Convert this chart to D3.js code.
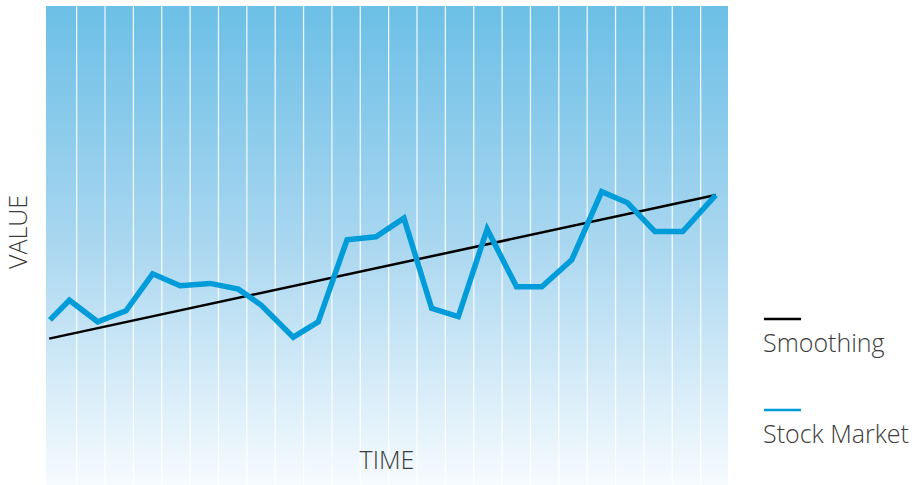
<!DOCTYPE html>
<html>
<head>
<meta charset="utf-8">
<script src="https://cdn.jsdelivr.net/npm/d3@7"></script>
<style>
  body { margin: 0; background: #fff; }
  text { font-family: "Open Sans", sans-serif; font-weight: 300; fill: #3c3c3c; }
</style>
</head>
<body>
<div id="container"></div>
<script>
// stock market series (time in grid units, value in %)
const times = [0, 0.7, 1.72, 2.74, 3.7, 4.69, 5.77, 6.79, 7.61, 8.77, 9.67, 10.71,
  11.75, 12.76, 13.76, 14.72, 15.76, 16.82, 17.73, 18.81, 19.89, 20.82, 21.81, 22.81, 24];
const values = [34.4, 38.5, 34.0, 36.3, 44.0, 41.5, 42.0, 40.8, 37.5, 30.8, 34.0, 51.1,
  51.7, 55.6, 36.8, 35.1, 53.3, 41.3, 41.3, 46.9, 61.1, 58.8, 52.8, 52.8, 60.4];
// smoothing (linear trend)
const smoothTimes = [-0.03, 24];
const smoothValues = [30.5, 60.4];
// vertical grid positions
const gridTicks = d3.range(1, 24);
const legendItems = ["Smoothing", "Stock Market"];
const legendColors = ["#000000", "#009cda"];

const width = 918;
const height = 485;
const plotLeft = 46, plotRight = 728, plotTop = 6, plotBottom = 485;

const x = d3.scaleLinear().domain([0, 24]).range([50, 715.7]);
const gx = d3.scaleLinear().domain([0, 24]).range([48.3, 729]);
const y = d3.scaleLinear().domain([0, 100]).range([485, 5]);

const svg = d3.create("svg")
  .attr("width", width)
  .attr("height", height)
  .attr("viewBox", [0, 0, width, height]);

const grad = svg.append("defs").append("linearGradient")
  .attr("id", "bg").attr("x1", 0).attr("y1", 0).attr("x2", 0).attr("y2", 1);
grad.append("stop").attr("offset", "0%").attr("stop-color", "#6cbfe6");
grad.append("stop").attr("offset", "50%").attr("stop-color", "#aad7f0");
grad.append("stop").attr("offset", "100%").attr("stop-color", "#f6fbfe");

svg.append("rect")
  .attr("x", plotLeft).attr("y", plotTop)
  .attr("width", plotRight - plotLeft).attr("height", plotBottom - plotTop)
  .attr("fill", "url(#bg)");

// white vertical lines
svg.append("g")
  .selectAll("line")
  .data(gridTicks)
  .join("line")
  .attr("x1", d => gx(d)).attr("x2", d => gx(d))
  .attr("y1", plotTop).attr("y2", plotBottom)
  .attr("stroke", "#fff")
  .attr("stroke-opacity", 0.85)
  .attr("stroke-width", 1.3);

const line = d3.line().x(d => x(d[0])).y(d => y(d[1]));

svg.append("path")
  .attr("fill", "none")
  .attr("stroke", legendColors[0])
  .attr("stroke-width", 2.5)
  .attr("d", line(d3.zip(smoothTimes, smoothValues)));

svg.append("path")
  .attr("fill", "none")
  .attr("stroke", legendColors[1])
  .attr("stroke-width", 5.5)
  .attr("stroke-linejoin", "miter")
  .attr("d", line(d3.zip(times, values)));

// axis titles
svg.append("text")
  .attr("x", 387).attr("y", 469)
  .attr("text-anchor", "middle")
  .attr("font-size", 25)
  .text("TIME");

svg.append("text")
  .attr("transform", "translate(27,232) rotate(-90)")
  .attr("text-anchor", "middle")
  .attr("font-size", 25)
  .text("VALUE");

// legend
const legend = svg.append("g")
  .selectAll("g")
  .data(legendItems)
  .join("g")
  .attr("transform", (d, i) => `translate(764,${319 + i * 91})`);

legend.append("line")
  .attr("x1", 0).attr("x2", 37)
  .attr("stroke", (d, i) => legendColors[i])
  .attr("stroke-width", 2.5);

legend.append("text")
  .attr("x", -1).attr("y", 33)
  .attr("font-size", 25)
  .text(d => d);

document.getElementById("container").append(svg.node());
</script>
</body>
</html>
